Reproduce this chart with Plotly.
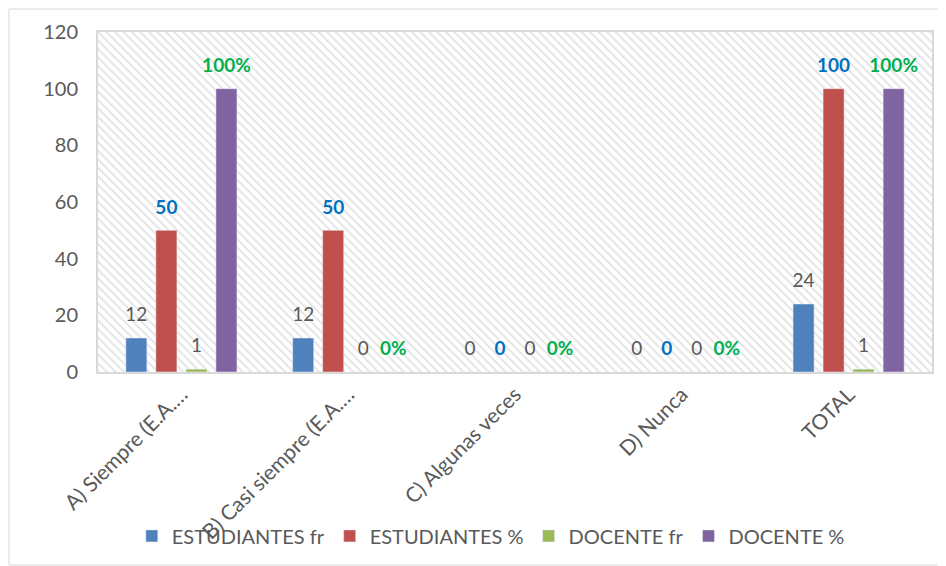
import plotly.graph_objects as go

categorias = ["A) Siempre (E.A.…", "B) Casi siempre (E.A.…", "C) Algunas veces", "D) Nunca", "TOTAL"]
est_fr = [12, 12, 0, 0, 24]
est_pct = [50, 50, 0, 0, 100]
doc_fr = [1, 0, 0, 0, 1]
doc_pct = [100, 0, 0, 0, 100]

gris = "#595959"
font_family = "Lato, 'Open Sans', sans-serif"

fig = go.Figure()

# fondo rayado del área de trazado
fig.add_trace(go.Scatter(
    x=[0, 1, 1, 0, 0], y=[0, 0, 1, 1, 0],
    fill="toself", mode="none", hoverinfo="skip", showlegend=False,
    fillcolor="rgba(0,0,0,0)",
    fillpattern=dict(shape="\\", fgcolor="#C4C4C4", bgcolor="white", size=6, solidity=0.28),
    xaxis="x", yaxis="y"
))

# etiquetas: número grande + línea vacía pequeña para separarlas de la barra
series = [
    ("ESTUDIANTES fr", est_fr, "#4F81BD", "%{y}", gris),
    ("ESTUDIANTES %", est_pct, "#C0504D", "<b>%{y}</b>", "#0070C0"),
    ("DOCENTE fr", doc_fr, "#9BBB59", "%{y}", gris),
    ("DOCENTE %", doc_pct, "#8064A2", "<b>%{y}%</b>", "#00B050"),
]
for nombre, valores, color, plantilla, color_txt in series:
    fig.add_trace(go.Bar(
        name=nombre, x=categorias, y=valores,
        marker_color=color,
        texttemplate="<span style='font-size:19px'>" + plantilla + "</span><br>&nbsp;",
        textposition="outside", textfont=dict(color=color_txt, size=9),
        constraintext="none", cliponaxis=False,
        xaxis="x2", yaxis="y2"
    ))

fig.update_layout(
    width=946, height=566,
    margin=dict(l=90, r=22, t=24, b=202),
    paper_bgcolor="white", plot_bgcolor="rgba(0,0,0,0)",
    font=dict(family=font_family, color=gris, size=18),
    barmode="group", bargap=0.28, bargroupgap=0.3,
    xaxis=dict(range=[0, 1], visible=False, fixedrange=True),
    yaxis=dict(range=[0, 1], visible=False, fixedrange=True),
    xaxis2=dict(
        overlaying="x", anchor="y2", side="bottom",
        type="category", tickson="boundaries", showgrid=True, gridcolor="#D9D9D9",
        gridwidth=2, showline=True, linecolor="#D9D9D9", linewidth=2, mirror=True,
        ticks="", tickangle=-45, tickfont=dict(size=21, color=gris), automargin=False
    ),
    yaxis2=dict(
        overlaying="y", anchor="x2", side="left",
        range=[0, 120], dtick=20, showgrid=True, gridcolor="#D9D9D9", gridwidth=2,
        zeroline=False, showline=True, linecolor="#D9D9D9", linewidth=2, mirror=True,
        ticks="", tickfont=dict(size=20, color=gris), ticklabelstandoff=14,
        automargin=False
    ),
    legend=dict(
        orientation="h", x=0.471, xanchor="center", y=-0.482, yanchor="middle",
        font=dict(size=20, color=gris), bgcolor="rgba(0,0,0,0)", itemwidth=30
    ),
    shapes=[dict(
        type="rect", xref="paper", yref="paper",
        x0=-0.1067, x1=1.0144, y0=-0.5676, y1=1.0676,
        line=dict(color="#D9D9D9", width=1)
    )]
)

fig.write_html("out.html")
